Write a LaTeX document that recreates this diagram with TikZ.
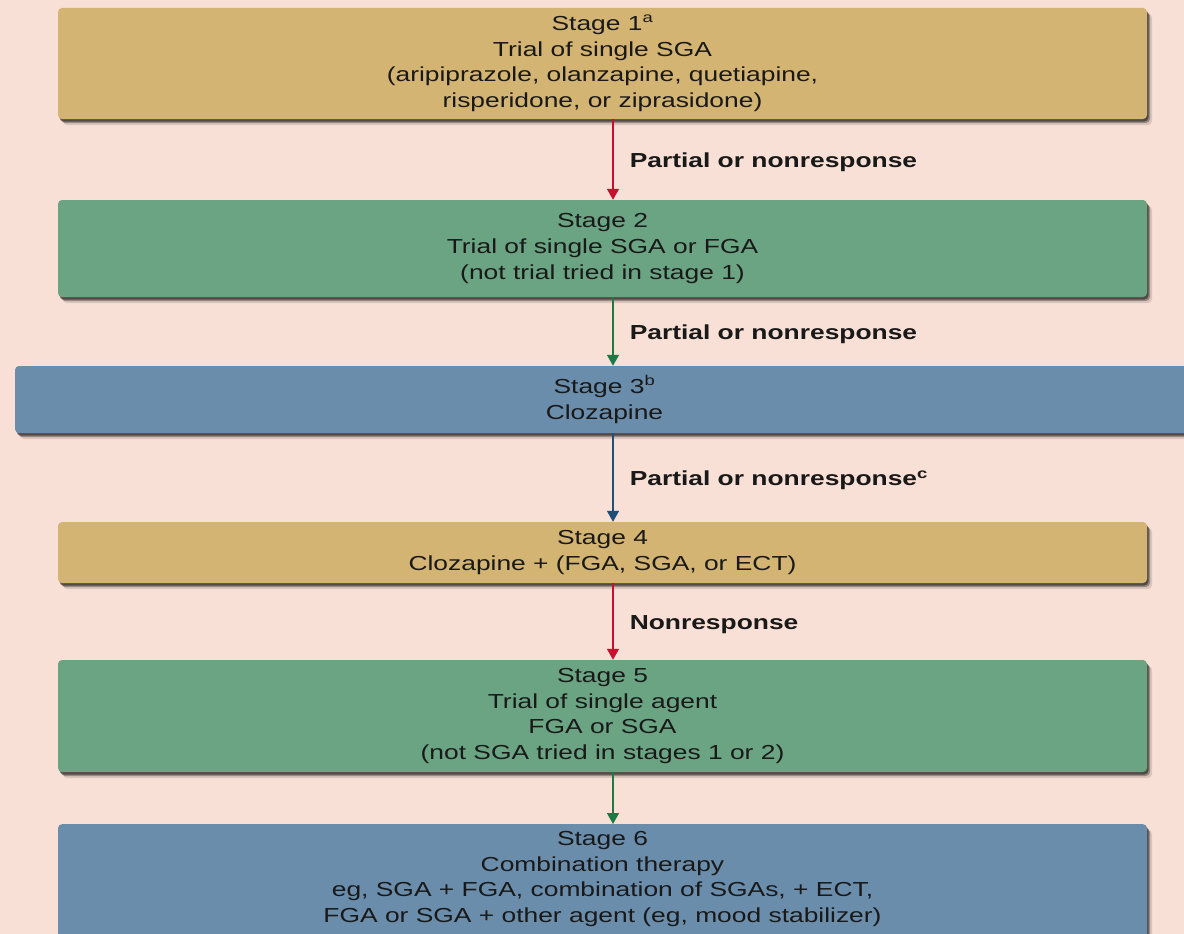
\documentclass[tikz,border=0pt]{standalone}
\usepackage{fontspec}
\setmainfont{Liberation Sans}[FakeStretch=1.3]
\usepackage{tikz}
\usepackage{xcolor}
\usetikzlibrary{shadows}
\usetikzlibrary{arrows.meta}

\definecolor{bgpink}{HTML}{F9E0D6}
\definecolor{stagetan}{HTML}{D4B473}
\definecolor{stagegreen}{HTML}{6BA483}
\definecolor{stageblue}{HTML}{6A8DAB}
\definecolor{arrred}{HTML}{C8102E}
\definecolor{arrgreen}{HTML}{1E7A44}
\definecolor{arrblue}{HTML}{1F4E79}

\tikzset{
    stagebox/.style={rounded corners=4pt, inner sep=0pt, align=center, text=black!90,
        font=\fontsize{20.3}{25.7}\selectfont,
        drop shadow={shadow xshift=5pt, shadow yshift=-6pt, fill=black, opacity=0.12},
        drop shadow={shadow xshift=3pt, shadow yshift=-4pt, fill=black, opacity=0.3},
        drop shadow={shadow xshift=1.5pt, shadow yshift=-2.5pt, fill=black, opacity=0.45}},
    resp/.style={anchor=west, inner sep=0pt, xshift=16pt, yshift=-3pt, text=black!90,
        font=\fontsize{20.3}{25.7}\selectfont\bfseries},
    flow/.style={line width=1.5pt, -{Triangle[length=11pt, width=12pt]}}
}

\begin{document}
\begin{tikzpicture}[x=1pt,y=-1pt]
        \fill[bgpink] (0,0) rectangle (1184,934);
        \useasboundingbox (0,0) rectangle (1184,934);
        \coordinate (ax) at (613,0);

        \node[stagebox, fill=stagetan, minimum width=1089pt, minimum height=111pt] (s1) at (602.5,63.5)
            {Stage 1\textsuperscript{a}\\Trial of single SGA\\(aripiprazole, olanzapine, quetiapine,\\risperidone, or ziprasidone)};
        \node[stagebox, fill=stagegreen, minimum width=1089pt, minimum height=97pt] (s2) at (602.5,248.5)
            {Stage 2\\Trial of single SGA or FGA\\(not trial tried in stage 1)};
        \node[stagebox, fill=stageblue, minimum width=1179pt, minimum height=67pt] (s3) at (604.5,399.5)
            {Stage 3\textsuperscript{b}\\Clozapine};
        \node[stagebox, fill=stagetan, minimum width=1089pt, minimum height=61pt] (s4) at (602.5,552.5)
            {Stage 4\\Clozapine + (FGA, SGA, or ECT)};
        \node[stagebox, fill=stagegreen, minimum width=1089pt, minimum height=112pt] (s5) at (602.5,716)
            {Stage 5\\Trial of single agent\\FGA or SGA\\(not SGA tried in stages 1 or 2)};
        \node[stagebox, fill=stageblue, minimum width=1089pt, anchor=north, inner ysep=7pt, text depth=30pt] (s6) at (602.5,824)
            {Stage 6\\Combination therapy\\eg, SGA + FGA, combination of SGAs, + ECT,\\FGA or SGA + other agent (eg, mood stabilizer)};

        \draw[flow, arrred] (s1.south -| ax) -- (s2.north -| ax) node[resp, midway] (r1) {Partial or nonresponse};
        \draw[flow, arrgreen] (s2.south -| ax) -- (s3.north -| ax) node[resp, midway] (r2) {Partial or nonresponse};
        \draw[flow, arrblue] (s3.south -| ax) -- (s4.north -| ax) node[resp, midway] (r3) {Partial or nonresponse\textsuperscript{c}};
        \draw[flow, arrred] (s4.south -| ax) -- (s5.north -| ax) node[resp, midway] (r4) {Nonresponse};
        \draw[flow, arrgreen] (s5.south -| ax) -- (s6.north -| ax);
    \end{tikzpicture}
\end{document}
